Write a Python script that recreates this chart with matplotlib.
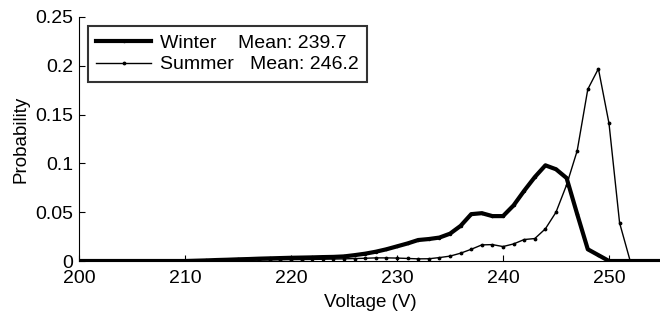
import numpy as np
import matplotlib.pyplot as plt
from matplotlib.ticker import FuncFormatter

plt.rcParams['font.family'] = ['Liberation Sans', 'DejaVu Sans']

volts = np.arange(200, 256)

winter = [0, 0, 0, 0, 0, 0, 0, 0, 0, 0,
          0, 0.0003, 0.0006, 0.001, 0.0013, 0.0017, 0.002, 0.0024, 0.0027, 0.003,
          0.0033, 0.0035, 0.0037, 0.004, 0.0042, 0.0047, 0.006, 0.0075, 0.0095, 0.012,
          0.015, 0.018, 0.0215, 0.0225, 0.024, 0.028, 0.036, 0.048, 0.049, 0.046,
          0.046, 0.057, 0.072, 0.086, 0.098, 0.094, 0.085, 0.048, 0.012, 0.006,
          0, 0, 0, 0, 0, 0]

summer = [0, 0, 0, 0, 0, 0, 0, 0, 0, 0,
          0, 0, 0, 0.0002, 0.0004, 0.0006, 0.0008, 0.001, 0.0012, 0.0013,
          0.0014, 0.0015, 0.0016, 0.0018, 0.002, 0.0022, 0.0025, 0.0028, 0.0032, 0.0032,
          0.003, 0.0026, 0.0022, 0.0023, 0.0035, 0.005, 0.008, 0.012, 0.0165, 0.0168,
          0.0148, 0.0175, 0.022, 0.023, 0.033, 0.050, 0.078, 0.113, 0.176, 0.197,
          0.141, 0.039, 0, 0, 0, 0]

labels = ["Winter    Mean: 239.7", "Summer   Mean: 246.2"]
xticks = [200, 210, 220, 230, 240, 250]
yticks = [0, 0.05, 0.1, 0.15, 0.2, 0.25]

fig = plt.figure(figsize=(6.6, 3.11), dpi=100)
ax = fig.add_axes([79/660, 50/311, 583/660, 244/311])

ax.plot(volts, winter, color='k', lw=3.0, marker='.', ms=3, label=labels[0])
ax.plot(volts, summer, color='k', lw=1.0, marker='.', ms=3.5, label=labels[1])

ax.set_xlim(200, 255)
ax.set_ylim(0, 0.25)
ax.set_xticks(xticks)
ax.set_yticks(yticks)
ax.yaxis.set_major_formatter(FuncFormatter(lambda v, p: "%g" % round(v, 3)))
ax.tick_params(direction='in', length=4, width=0.8, labelsize=14)
ax.tick_params(axis='x', pad=6.5)
ax.tick_params(axis='y', pad=4)
for s in ['top', 'right']:
    ax.spines[s].set_visible(False)
for s in ['left', 'bottom']:
    ax.spines[s].set_linewidth(0.8)

ax.set_xlabel("Voltage (V)", fontsize=13.5, labelpad=5)
ax.set_ylabel("Probability", fontsize=13.5, labelpad=4)

leg = ax.legend(loc='upper left', bbox_to_anchor=(0.015, 0.965), fontsize=14,
                frameon=True, fancybox=False, numpoints=1, handlelength=2.8,
                handletextpad=0.45, borderpad=0.45, labelspacing=0.2,
                borderaxespad=0)
leg.get_frame().set_edgecolor('k')
leg.get_frame().set_linewidth(1.5)

fig.savefig("out.png", dpi=100)
